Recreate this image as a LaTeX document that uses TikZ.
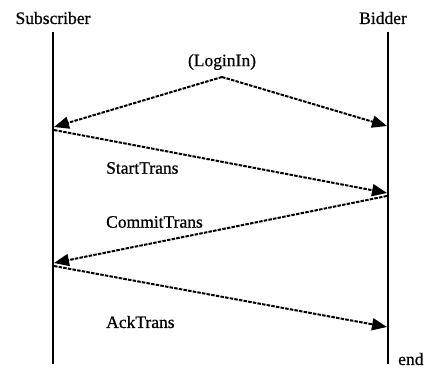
\documentclass[tikz,border=0pt]{standalone}
\usepackage{fontspec}
\setmainfont{Liberation Serif}[FakeBold=0.7]
\usetikzlibrary{arrows.meta}
\begin{document}
\begin{tikzpicture}[x=1pt,y=-1pt,
  lifeline/.style={line width=2.4pt},
  msg/.style={line width=2pt, dash pattern=on 3.5pt off 1.2pt,
    -{Triangle[length=15pt,width=12pt]}},
  lbl/.style={font=\fontsize{17.5}{20}\selectfont, inner sep=0pt},
  msglbl/.style={lbl, anchor=west}]
\useasboundingbox (0,0) rectangle (428,369);

% participants
\node[lbl] (sub) at (53,18) {Subscriber};
\node[lbl] (bid) at (383,18) {Bidder};

% lifelines
\coordinate (subtop) at (53,32);
\coordinate (subbot) at (53,364);
\coordinate (bidtop) at (388,32);
\coordinate (bidbot) at (388,364);
\draw[lifeline] (subtop) -- (subbot);
\draw[lifeline] (bidtop) -- (bidbot);
\node[lbl, anchor=west] (end) at (398,359) {end};

% message end points
\coordinate (login) at (222,77);
\coordinate (s1) at (54,127);
\coordinate (b1) at (387,126);
\coordinate (s2) at (54,130);
\coordinate (b2) at (387,193);
\coordinate (b3) at (387,196);
\coordinate (s3) at (54,263);
\coordinate (s4) at (54,266);
\coordinate (b4) at (387,327);

% messages
\node[lbl] (loginlbl) at (222,62) {(LoginIn)};
\draw[msg] (login) -- (s1);
\draw[msg] (login) -- (b1);
\draw[msg] (s2) -- (b2);
\node[msglbl] (start) at (106,168) {StartTrans};
\draw[msg] (b3) -- (s3);
\node[msglbl] (commit) at (106,222) {CommitTrans};
\draw[msg] (s4) -- (b4);
\node[msglbl] (ack) at (106,322) {AckTrans};
\end{tikzpicture}
\end{document}
